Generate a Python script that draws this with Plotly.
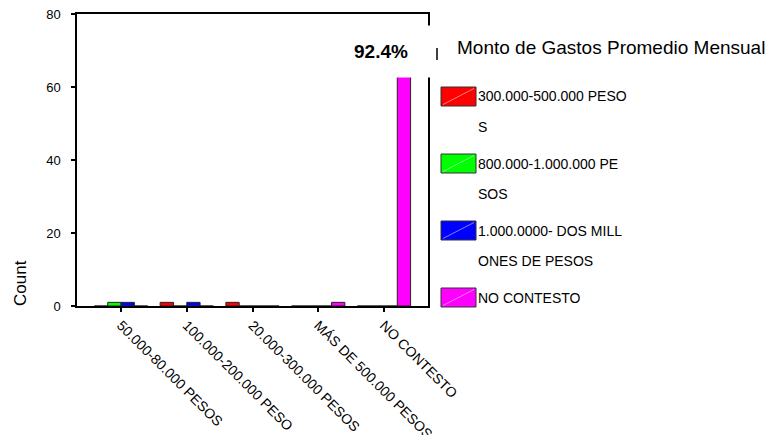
import plotly.graph_objects as go

# x categories (as printed on the axis)
categories = [
    "50.000-80.000 PESOS",
    "100.000-200.000 PESO",
    "20.000-300.000 PESOS",
    "MÁS DE 500.000 PESOS",
    "NO CONTESTO",
]

# series (legend entries), each split the way the legend wraps it
series_names = [
    "300.000-500.000 PESOS",
    "800.000-1.000.000 PESOS",
    "1.000.0000- DOS MILLONES DE PESOS",
    "NO CONTESTO",
]
legend_lines = [
    ["300.000-500.000 PESO", "S"],
    ["800.000-1.000.000 PE", "SOS"],
    ["1.000.0000- DOS MILL", "ONES DE PESOS"],
    ["NO CONTESTO"],
]
series_colors = ["#ff0000", "#00ff00", "#0000ff", "#ff00ff"]
swatch_hilite = ["#ff8080", "#80ff80", "#8080ff", "#ff80ff"]

counts_red = [0, 1, 1, 0, 0]
counts_green = [1, 0, 0, 0, 0]
counts_blue = [1, 1, 0, 0, 0]
counts_magenta = [0, 0, 0, 1, 73]
series_counts = [counts_red, counts_green, counts_blue, counts_magenta]

y_ticks = [0, 20, 40, 60, 80]
bar_label = "92.4%"
legend_title = "Monto de Gastos Promedio Mensual"

FONT = "Liberation Sans, Arial, sans-serif"

# the page body has an 8px margin, so the figure is shifted by 8px
OFF = 8
W, H = 779 - OFF, 435 - OFF
# plot box in screen pixels
L, R, T, B = 77, 428, 14, 306


def px(x):
    return (x - L) / (R - L)


def py(y):
    return (B - y) / (B - T)


fig = go.Figure()
for name, vals, col in zip(series_names, series_counts, series_colors):
    fig.add_bar(x=categories, y=vals, name=name, marker_color=col,
                marker_line=dict(color="#222222", width=1), showlegend=False)

fig.update_layout(
    width=W, height=H,
    margin=dict(l=L - OFF, r=779 - R, t=T - OFF, b=435 - B),
    paper_bgcolor="white", plot_bgcolor="white",
    barmode="group", bargap=0.19, bargroupgap=0,
    font=dict(family=FONT, size=14, color="black"),
)
fig.update_xaxes(
    range=[-0.67, 4.67], showline=True, linecolor="black", linewidth=1.5, mirror=True,
    ticks="outside", ticklen=4, tickwidth=2, tickcolor="black", tickangle=45,
    tickfont=dict(size=14), showgrid=False, automargin=False,
)
fig.update_yaxes(
    range=[0, 80.05], tickvals=y_ticks, showline=True, linecolor="black",
    linewidth=1.5, mirror=True, ticks="outside", ticklen=4, tickwidth=2, tickcolor="black",
    tickfont=dict(size=13), showgrid=False, zeroline=False, ticklabelstandoff=8,
    automargin=False, ticklabeloverflow="allow",
)

# y title sits low, near the bottom of the axis
fig.add_annotation(text="Count", xref="paper", yref="paper", x=px(20), y=py(283),
                   xanchor="center", yanchor="middle",
                   textangle=-90, showarrow=False, font=dict(size=17))

# value label with white box over the tall bar
fig.add_annotation(text=f"<b>{bar_label}</b>", xref="paper", yref="paper",
                   x=px(381), y=py(52), xanchor="center", yanchor="middle",
                   showarrow=False, bgcolor="white",
                   width=100, height=49, font=dict(size=19))
fig.add_shape(type="line", xref="paper", yref="paper", x0=px(437), x1=px(437),
              y0=py(48), y1=py(60), line=dict(color="black", width=1.5))

# custom legend
fig.add_annotation(text=legend_title, xref="paper", yref="paper", x=px(455), y=py(47),
                   xanchor="left", yanchor="middle", showarrow=False, font=dict(size=19))
for i, (lines, col, hi) in enumerate(zip(legend_lines, series_colors, swatch_hilite)):
    cy = 96.5 + i * 67
    fig.add_shape(type="rect", xref="paper", yref="paper", x0=px(441), x1=px(476),
                  y0=py(cy + 9.5), y1=py(cy - 9.5), fillcolor=col,
                  line=dict(color="#333333", width=1))
    fig.add_shape(type="line", xref="paper", yref="paper", x0=px(443), x1=px(474),
                  y0=py(cy + 8), y1=py(cy - 8), line=dict(color=hi, width=1))
    for j, line in enumerate(lines):
        fig.add_annotation(text=line, xref="paper", yref="paper", x=px(476),
                           y=py(cy + j * 30), xanchor="left", yanchor="middle",
                           showarrow=False, font=dict(size=14))

fig.write_html("out.html")
